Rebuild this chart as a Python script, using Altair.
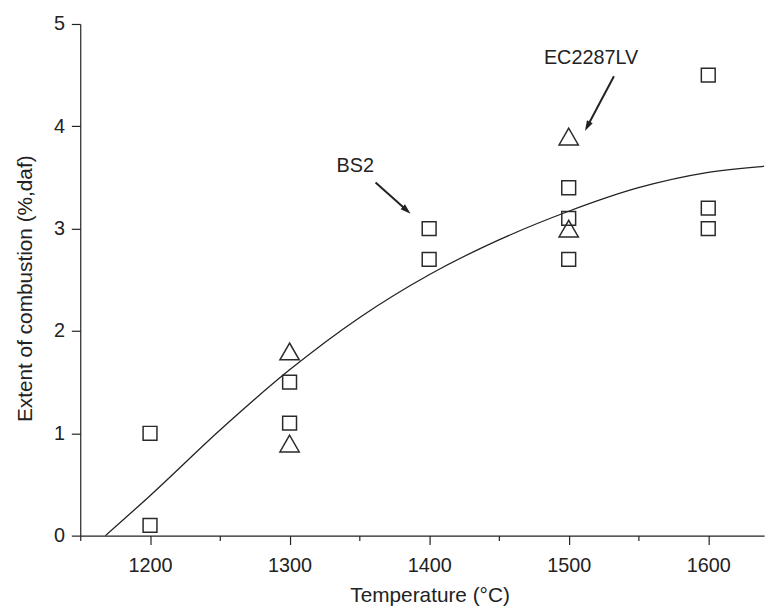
import altair as alt
import pandas as pd

# ---- data ----
square_temp = [1200, 1200, 1300, 1300, 1400, 1400, 1500, 1500, 1500, 1600, 1600, 1600]
square_ext = [1.0, 0.1, 1.5, 1.1, 3.0, 2.7, 3.4, 3.1, 2.7, 4.5, 3.2, 3.0]

tri_temp = [1300, 1300, 1500, 1500]
tri_ext = [1.8, 0.9, 3.9, 3.0]

curve_temp = [1168, 1200, 1250, 1300, 1350, 1400, 1450, 1500, 1550, 1600, 1650]
curve_ext = [0.0, 0.39, 1.03, 1.62, 2.13, 2.55, 2.89, 3.17, 3.40, 3.55, 3.62]

ann_text = ["BS2", "EC2287LV"]
ann_x = [1347, 1516]
ann_y = [3.61, 4.67]

arrow_x = [1361.6, 1532.4]
arrow_y = [3.45, 4.49]
arrow_x2 = [1383.9, 1513.4]
arrow_y2 = [3.18, 4.00]
arrow_angle = [131.5, 207.8]

x_ticks = [1150, 1200, 1250, 1300, 1350, 1400, 1450, 1500, 1550, 1600]
y_ticks = [0, 0.5, 1, 1.5, 2, 2.5, 3, 3.5, 4, 4.5, 5]

# ---- tables ----
sq = pd.DataFrame({"t": square_temp, "e": square_ext})
tr = pd.DataFrame({"t": tri_temp, "e": tri_ext})
cv = pd.DataFrame({"t": curve_temp, "e": curve_ext})
an = pd.DataFrame({"label": ann_text, "t": ann_x, "e": ann_y})
ar = pd.DataFrame({"t": arrow_x, "e": arrow_y, "t2": arrow_x2, "e2": arrow_y2, "ang": arrow_angle})

FONT = "Liberation Sans"
INK = "#222222"

xscale = alt.Scale(domain=[1150, 1640], nice=False, zero=False)
yscale = alt.Scale(domain=[0, 5], nice=False)

xaxis = alt.Axis(
    values=x_ticks, format="d",
    labelExpr="datum.value % 100 == 0 ? datum.label : ''",
    tickSize={"condition": {"test": "datum.value % 100 === 0", "value": 9}, "value": 5},
    labelPadding=11, title="Temperature (°C)", titleX=353, titleY=50,
    titleBaseline="top", grid=False,
)
yaxis = alt.Axis(
    values=y_ticks, format="d",
    labelExpr="datum.value % 1 == 0 ? datum.label : ''",
    tickSize={"condition": {"test": "datum.value % 1 === 0", "value": 9}, "value": 5},
    labelPadding=7, title="Extent of combustion (%,daf)", titleX=-45, titleY=267,
    grid=False,
)

X = alt.X("t:Q", scale=xscale, axis=xaxis)
Y = alt.Y("e:Q", scale=yscale, axis=yaxis)

curve = alt.Chart(cv).mark_line(
    interpolate="monotone", color=INK, strokeWidth=1.3, clip=True
).encode(x=X, y=Y)

squares = alt.Chart(sq).mark_point(
    shape="square", size=196, filled=False, stroke="#2a2a2a", strokeWidth=1.5, opacity=1
).encode(x=X, y=Y)

triangles = alt.Chart(tr).mark_point(
    shape="triangle-up", size=380, filled=False, stroke="#2a2a2a", strokeWidth=1.5, opacity=1
).encode(x=X, y=Y)

shafts = alt.Chart(ar).mark_rule(color=INK, strokeWidth=2).encode(
    x=X, y=Y, x2="t2:Q", y2="e2:Q"
)

heads = alt.Chart(ar).mark_point(
    shape="M0,-1L-0.62,1L0.62,1Z", size=110, filled=True, color=INK, opacity=1
).encode(
    x=alt.X("t2:Q", scale=xscale, axis=xaxis),
    y=alt.Y("e2:Q", scale=yscale, axis=yaxis),
    angle=alt.Angle("ang:Q", scale=None),
)

labels = alt.Chart(an).mark_text(
    font=FONT, fontSize=20, color=INK, align="center", baseline="middle"
).encode(x=X, y=Y, text="label:N")

chart = alt.layer(curve, squares, triangles, shafts, heads, labels).properties(
    width=691, height=517,
    background="white",
    autosize=alt.AutoSizeParams(type="none"),
    padding={"left": 73, "top": 13, "right": 8, "bottom": 72},
).configure_view(stroke=None).configure_axis(
    labelFont=FONT, titleFont=FONT, labelFontSize=20, titleFontSize=21,
    labelColor=INK, titleColor=INK, titleFontWeight="normal",
    domainColor=INK, tickColor=INK, domainWidth=1.2, tickWidth=1.2,
)

chart.save("out.html", embed_options={"renderer": "svg", "actions": False})
